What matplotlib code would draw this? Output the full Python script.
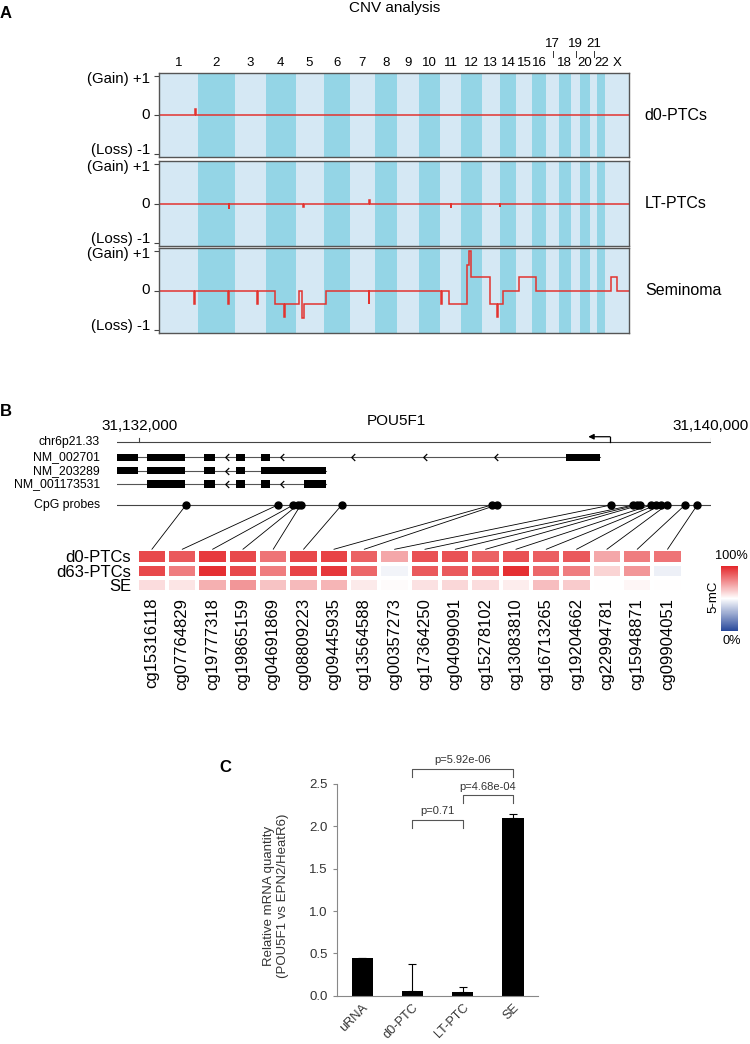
import numpy as np
import matplotlib
matplotlib.use('Agg')
import matplotlib.pyplot as plt
from matplotlib.colors import LinearSegmentedColormap
from matplotlib.patches import ConnectionPatch, Rectangle
from matplotlib.path import Path
from matplotlib.transforms import blended_transform_factory

plt.rcParams['font.family'] = ['Liberation Sans', 'DejaVu Sans']

W, H = 750, 1044

# ---------------- Panel A: CNV analysis ----------------
chrom_names = ['1', '2', '3', '4', '5', '6', '7', '8', '9', '10', '11', '12',
               '13', '14', '15', '16', '17', '18', '19', '20', '21', '22', 'X']
chrom_len_mb = [249.3, 243.2, 198.0, 191.2, 180.9, 171.1, 159.1, 146.4, 141.2,
                135.5, 135.0, 133.9, 115.2, 107.3, 102.5, 90.4, 81.2, 78.1,
                59.1, 63.0, 48.1, 51.3, 155.3]
chrom_raised = ['17', '19', '21']

track_names = ['d0-PTCs', 'LT-PTCs', 'Seminoma']
# CNV step profiles: segment edges (cumulative Mb) and values between them
d0_breaks = [0, 233, 237, 3036]
d0_vals = [0, 0.15, 0]
lt_breaks = [0, 451, 455, 930, 934, 1357, 1361, 1884, 1888, 2200, 2204, 3036]
lt_vals = [0, -0.13, 0, -0.1, 0, 0.1, 0, -0.12, 0, -0.1, 0]
sem_breaks = [0, 229, 233, 448, 452, 635, 639, 751, 806, 812, 906, 925, 935,
              1078, 1355, 1359, 1822, 1828, 1875, 1988, 2003, 2012, 2138,
              2185, 2190, 2224, 2325, 2432, 2916, 2959, 3036]
sem_vals = [0, -0.35, 0, -0.35, 0, -0.35, 0, -0.35, -0.68, -0.35, 0, -0.7,
            -0.35, 0, -0.35, 0, -0.35, 0, -0.35, 0.66, 1.0, 0.34, -0.35,
            -0.68, -0.35, 0, 0.34, 0, 0.34, 0]
cnv_ticks = [1, 0, -1]
cnv_ticklabels = ['(Gain) +1', '0', '(Loss) -1']

# ---------------- Panel B: POU5F1 locus methylation ----------------
region_start, region_end = 31131684, 31140000
coord_ticks = [31132000, 31140000]
transcripts = ['NM_002701', 'NM_203289', 'NM_001173531']
tx_spans = [(31131684, 31138450), (31131684, 31134614), (31131684, 31134614)]
tx_exons = [
    [(31131684, 31131986), (31132104, 31132640), (31132902, 31133060),
     (31133354, 31133480), (31133704, 31133830), (31137974, 31138450)],
    [(31131684, 31131986), (31132104, 31132640), (31132902, 31133060),
     (31133354, 31133480), (31133704, 31134614)],
    [(31132104, 31132640), (31132902, 31133060), (31133354, 31133480),
     (31133704, 31133830), (31134306, 31134614)],
]
tx_arrows = [
    [31133224, 31133994, 31134996, 31135996, 31136990],
    [31133224],
    [31133224, 31133994],
]
tss_pos, tss_arrow_end = 31138590, 31138286
probe_pos = [31132654, 31133938, 31134156, 31134218, 31134260, 31134834,
             31136934, 31137004, 31138604, 31138916, 31138964, 31139010,
             31139164, 31139234, 31139300, 31139384, 31139640, 31139812]
probe_ids = ['cg15316118', 'cg07764829', 'cg19777318', 'cg19865159',
             'cg04691869', 'cg08809223', 'cg09445935', 'cg13564588',
             'cg00357273', 'cg17364250', 'cg04099091', 'cg15278102',
             'cg13083810', 'cg16713265', 'cg19204662', 'cg22994781',
             'cg15948871', 'cg09904051']
meth_rows = ['d0-PTCs', 'd63-PTCs', 'SE']
meth_d0 = [0.92, 0.88, 0.95, 0.92, 0.82, 0.92, 0.93, 0.86, 0.70, 0.90, 0.90,
           0.86, 0.90, 0.87, 0.88, 0.70, 0.80, 0.82]
meth_d63 = [0.92, 0.80, 0.98, 0.92, 0.80, 0.93, 0.96, 0.85, 0.47, 0.88, 0.88,
            0.90, 0.98, 0.85, 0.80, 0.60, 0.74, 0.46]
meth_se = [0.58, 0.56, 0.68, 0.74, 0.64, 0.66, 0.67, 0.55, 0.51, 0.57, 0.59,
           0.58, 0.54, 0.65, 0.62, 0.50, 0.52, 0.50]

# ---------------- Panel C: qPCR ----------------
bar_labels = ['uRNA', 'd0-PTC', 'LT-PTC', 'SE']
bar_values = [0.45, 0.05, 0.04, 2.10]
bar_err = [0.0, 0.33, 0.06, 0.05]
pval_pairs = [(1, 2, 'p=0.71'), (2, 3, 'p=4.68e-04'), (1, 3, 'p=5.92e-06')]


def px_rect(left, top, right, bottom):
    return [left / W, 1 - bottom / H, (right - left) / W, (bottom - top) / H]


def fig_text(fig, px, py, s, **kw):
    return fig.text(px / W, 1 - py / H, s, **kw)


fig = plt.figure(figsize=(W / 100, H / 100), dpi=100)

# ---- Panel A ----
cnv_red = '#e3332f'
band_light, band_dark = '#d5e8f4', '#94d5e6'
edges = np.concatenate([[0], np.cumsum(chrom_len_mb)])
mids = (edges[:-1] + edges[1:]) / 2
profiles = [(d0_breaks, d0_vals), (lt_breaks, lt_vals), (sem_breaks, sem_vals)]
track_px = [(73, 157), (161, 246), (248, 333)]
label_shift = [-2.2, 0, 2.6]   # nudge gain label down, loss label up (points)

fig_text(fig, 395, 8, 'CNV analysis', ha='center', va='center', fontsize=11)
fig_text(fig, 6, 13, 'A', ha='center', va='center', fontsize=12, weight='bold')

for i, ((brk, vals), name, (top, bot)) in enumerate(zip(profiles, track_names, track_px)):
    ax = fig.add_axes(px_rect(159, top, 629.3, bot))
    for k in range(len(chrom_names)):
        ax.axvspan(edges[k], edges[k + 1], color=band_light if k % 2 == 0 else band_dark, lw=0)
    ax.stairs(vals, brk, baseline=None, color=cnv_red, lw=1.1)
    ax.set_xlim(0, edges[-1])
    ax.set_ylim(-1.08, 1.08)
    ax.set_xticks([])
    ax.set_yticks(cnv_ticks)
    ax.set_yticklabels([])
    ax.tick_params(axis='y', length=3.5, width=0.8, color='#444')
    for sp in ax.spines.values():
        sp.set_color('#555555')
        sp.set_linewidth(1.0)
    trans = blended_transform_factory(ax.transAxes, ax.transData)
    for v, lab, dy in zip(cnv_ticks, cnv_ticklabels, label_shift):
        ax.annotate(lab, xy=(0, v), xycoords=trans, xytext=(-6.5, dy),
                    textcoords='offset points', ha='right', va='center',
                    fontsize=10.8)
    ax.text(1.033, 0, name, transform=trans, ha='left', va='center', fontsize=11.5)
    if i == 0:
        xt = ax.get_xaxis_transform()
        for nm, m in zip(chrom_names, mids):
            if nm in chrom_raised:
                ax.text(m, 1.342, nm, transform=xt, ha='center', va='center', fontsize=9.5)
                ax.plot([m, m], [1.194, 1.262], transform=xt, color='#333', lw=0.7, clip_on=False)
            else:
                ax.text(m, 1.115, nm, transform=xt, ha='center', va='center', fontsize=9.5)

# ---- Panel B ----
fig_text(fig, 6, 412, 'B', ha='center', va='center', fontsize=12, weight='bold')
gtop, gbot = 430, 512
ax_g = fig.add_axes(px_rect(116.7, gtop, 710.7, gbot))
ax_g.set_xlim(region_start, region_end)
ax_g.set_ylim(0, 1)
ax_g.axis('off')
row_y = [0.857, 0.667, 0.504, 0.341, 0.085]
gh = gbot - gtop
y_chr, y_cpg = row_y[0], row_y[4]

ax_g.plot([region_start, region_end], [y_chr, y_chr], color='#444', lw=0.8)
for t in coord_ticks:
    ax_g.plot([t, t], [y_chr, y_chr + 4 / gh], color='#444', lw=0.8)
    ax_g.text(t, y_chr + 16 / gh, f'{t:,}', ha='center', va='center', fontsize=11)
ax_g.text(31135604, y_chr + 21 / gh, 'POU5F1', ha='center', va='center', fontsize=11)
ax_g.plot([tss_pos, tss_pos], [y_chr, y_chr + 5 / gh], color='black', lw=0.9)
ax_g.annotate('', xy=(tss_arrow_end, y_chr + 5 / gh), xytext=(tss_pos, y_chr + 5 / gh),
              arrowprops=dict(arrowstyle='-|>', color='black', lw=0.9,
                              mutation_scale=8, shrinkA=0, shrinkB=0))

chevron = Path([(0.5, 1), (-0.5, 0), (0.5, -1)], [Path.MOVETO, Path.LINETO, Path.LINETO])
ex_h = 7.5 / gh
for j, (span, exons, arrows) in enumerate(zip(tx_spans, tx_exons, tx_arrows)):
    y = row_y[j + 1]
    ax_g.plot(span, [y, y], color='#555', lw=0.8, zorder=2)
    for s, e in exons:
        ax_g.add_patch(Rectangle((s, y - ex_h / 2), e - s, ex_h, color='black',
                                 lw=0, zorder=3))
    ax_g.plot(arrows, [y] * len(arrows), ls='none', marker=chevron, ms=5,
              mfc='none', mec='black', mew=0.9, zorder=3)

ax_g.plot([region_start, region_end], [y_cpg, y_cpg], color='#444', lw=0.8)
ax_g.plot(probe_pos, [y_cpg] * len(probe_pos), 'o', color='black', ms=5, zorder=5)

label_x = -0.028
for txt, y in zip(['chr6p21.33'] + transcripts + ['CpG probes'], row_y):
    ax_g.text(label_x, y, txt, transform=blended_transform_factory(ax_g.transAxes, ax_g.transData),
              ha='right', va='center', fontsize=8.8)

# heatmap
cmap = LinearSegmentedColormap.from_list('meth', ['#2a4a9c', '#ffffff', '#e4262a'])
ax_h = fig.add_axes(px_rect(136.7, 549.3, 682.7, 592.3))
meth = np.array([meth_d0, meth_d63, meth_se])
mesh = ax_h.pcolormesh(meth, cmap=cmap, vmin=0, vmax=1, edgecolors='white', linewidth=1.5)
ax_h.set_xlim(0, len(probe_ids))
ax_h.set_ylim(len(meth_rows), 0)
ax_h.set_xticks(np.arange(len(probe_ids)) + 0.5)
ax_h.set_xticklabels(probe_ids, rotation=90, fontsize=12)
ax_h.set_yticks(np.arange(len(meth_rows)) + 0.5)
ax_h.set_yticklabels(meth_rows, fontsize=12)
ax_h.tick_params(length=0, pad=4)
for sp in ax_h.spines.values():
    sp.set_visible(False)

for i, p in enumerate(probe_pos):
    con = ConnectionPatch(xyA=(p, y_cpg), coordsA=ax_g.transData,
                          xyB=(i + 0.5, 0), coordsB=ax_h.transData,
                          color='black', lw=0.6)
    fig.add_artist(con)

cax = fig.add_axes(px_rect(721, 566, 738.3, 630.7))
cb = fig.colorbar(mesh, cax=cax)
cb.set_ticks([])
cb.outline.set_visible(False)
fig_text(fig, 731.5, 556, '100%', ha='center', va='center', fontsize=9.2)
fig_text(fig, 731.5, 641, '0%', ha='center', va='center', fontsize=9.2)
fig_text(fig, 713, 597, '5-mC', ha='center', va='center', rotation=90, fontsize=9.5)

# ---- Panel C ----
fig_text(fig, 225.5, 767, 'C', ha='center', va='center', fontsize=12, weight='bold')
ax_c = fig.add_axes(px_rect(336.7, 784, 538.3, 995.7))
x = np.arange(len(bar_labels))
ax_c.bar(x, bar_values, width=0.42, color='black')
ax_c.errorbar(x, bar_values, yerr=[np.zeros(len(x)), bar_err], fmt='none',
              ecolor='black', elinewidth=0.8, capsize=3, capthick=0.8)
ax_c.set_xlim(-0.507, 3.503)
ax_c.set_ylim(0, 2.5)
ax_c.set_yticks(np.arange(0, 2.51, 0.5))
ax_c.set_yticklabels([f'{v:.1f}' for v in np.arange(0, 2.51, 0.5)], fontsize=9.5, color='#333')
ax_c.set_xticks(x)
ax_c.set_xticklabels(bar_labels, rotation=45, ha='right', rotation_mode='anchor',
                     fontsize=9.2, color='#333')
ax_c.tick_params(axis='y', length=3, width=0.8, color='#888')
ax_c.tick_params(axis='x', length=0, pad=4)
for sp in ['top', 'right']:
    ax_c.spines[sp].set_visible(False)
for sp in ['left', 'bottom']:
    ax_c.spines[sp].set_color('#888')
    ax_c.spines[sp].set_linewidth(0.8)
ax_c.text(-0.30, 0.47, 'Relative mRNA quantity\n(POU5F1 vs EPN2/HeatR6)',
          transform=ax_c.transAxes, rotation=90, ha='center', va='center',
          fontsize=9.5, color='#333')

bracket_levels = [2.08, 2.37, 2.68]
for (a, b, txt), top in zip(pval_pairs, bracket_levels):
    ax_c.plot([a, a, b, b], [top - 0.1, top, top, top - 0.1], color='#555',
              lw=0.8, clip_on=False)
    ax_c.text((a + b) / 2, top + 0.04, txt, ha='center', va='bottom',
              fontsize=8, color='#333', clip_on=False)

fig.savefig('out.png', dpi=100)
